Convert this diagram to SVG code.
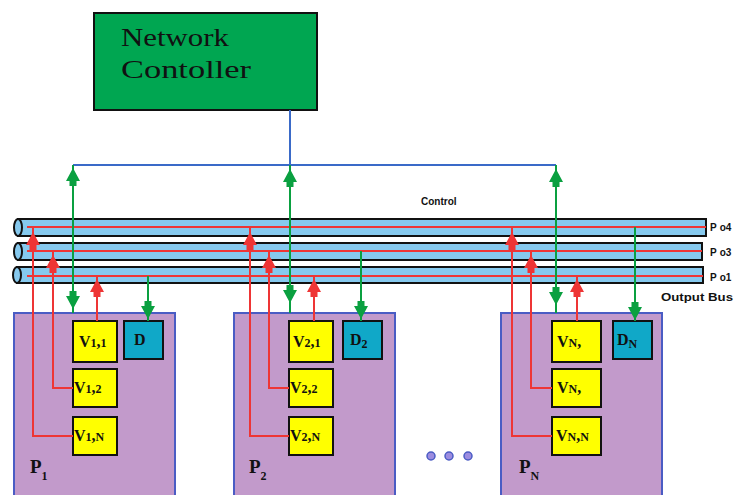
<svg xmlns="http://www.w3.org/2000/svg" width="747" height="495" viewBox="0 0 747 495">
<style>
.proc{fill:#c29acb;stroke:#4a5cc4;stroke-width:2}
.vbox{fill:#ffff00;stroke:#111;stroke-width:2}
.dbox{fill:#10a8c8;stroke:#111;stroke-width:2}
.tube{fill:#86c9ee;stroke:#111;stroke-width:2}
.red{stroke:#ee3535;stroke-width:2;fill:none}
.grn{stroke:#0aa040;stroke-width:2;fill:none}
.blu{stroke:#3a6ac8;stroke-width:2;fill:none}
.lbl{font-family:"Liberation Serif",serif;font-size:16px;font-weight:bold;fill:#111}
.sub{font-size:12px}
.plbl{font-family:"Liberation Serif",serif;font-size:19px;font-weight:bold;fill:#111}
.small{font-family:"Liberation Sans",Arial,sans-serif;font-size:10px;font-weight:bold;fill:#111}
</style>
<defs>
<path id="au" d="M0,0 L7,13 L3.5,13 L3.5,18 L-3.5,18 L-3.5,13 L-7,13 Z"/>
<path id="ad" d="M0,0 L7,-13 L3.5,-13 L3.5,-18 L-3.5,-18 L-3.5,-13 L-7,-13 Z"/>
</defs>

<g id="controller">
<rect x="94" y="13" width="223" height="97" fill="#00a651" stroke="#111" stroke-width="2"/>
<text x="121" y="46" font-family="Liberation Serif,serif" font-size="26" fill="#111" textLength="108" lengthAdjust="spacingAndGlyphs">Network</text>
<text x="121" y="78" font-family="Liberation Serif,serif" font-size="26" fill="#111" textLength="130" lengthAdjust="spacingAndGlyphs">Contoller</text>
</g>

<g id="buses">
<rect class="tube" x="18" y="219" width="688" height="17"/>
<ellipse class="tube" cx="18" cy="227.5" rx="4" ry="8.5"/>
<line class="red" x1="27" y1="227" x2="706" y2="227"/>
<rect class="tube" x="18" y="243" width="684" height="17"/>
<ellipse class="tube" cx="18" cy="251.5" rx="4" ry="8.5"/>
<line class="red" x1="27" y1="251" x2="702" y2="251"/>
<rect class="tube" x="17" y="267" width="686" height="16"/>
<ellipse class="tube" cx="17" cy="275" rx="4" ry="8"/>
<line class="red" x1="27" y1="276" x2="703" y2="276"/>
<text class="small" x="710" y="231">P<tspan dx="3">o4</tspan></text>
<text class="small" x="710" y="256">P<tspan dx="3">o3</tspan></text>
<text class="small" x="710" y="281">P<tspan dx="3">o1</tspan></text>
<text class="small" x="421" y="205">Control</text>
<text class="small" x="661" y="301" textLength="72" lengthAdjust="spacingAndGlyphs">Output Bus</text>
</g>

<g id="p1">
<rect class="proc" x="14" y="313" width="161" height="190"/>
<rect class="vbox" x="73" y="321" width="44" height="41"/>
<text class="lbl" x="79" y="347">V<tspan class="sub">1</tspan>,<tspan class="sub">1</tspan></text>
<rect class="vbox" x="73" y="369" width="44" height="38"/>
<text class="lbl" x="74" y="393">V<tspan class="sub">1</tspan>,<tspan class="sub">2</tspan></text>
<rect class="vbox" x="73" y="417" width="44" height="38"/>
<text class="lbl" x="74" y="441">V<tspan class="sub">1</tspan>,<tspan class="sub">N</tspan></text>
<rect class="dbox" x="124" y="321" width="39" height="38"/>
<text class="lbl" x="134" y="345">D</text>
<text class="plbl" x="30" y="473">P<tspan class="sub" dy="7">1</tspan></text>
</g>

<g id="p2">
<rect class="proc" x="234" y="313" width="161" height="190"/>
<rect class="vbox" x="289" y="321" width="44" height="41"/>
<text class="lbl" x="293" y="347">V<tspan class="sub">2</tspan>,<tspan class="sub">1</tspan></text>
<rect class="vbox" x="289" y="369" width="44" height="38"/>
<text class="lbl" x="290" y="393">V<tspan class="sub">2</tspan>,<tspan class="sub">2</tspan></text>
<rect class="vbox" x="289" y="417" width="44" height="38"/>
<text class="lbl" x="290" y="441">V<tspan class="sub">2</tspan>,<tspan class="sub">N</tspan></text>
<rect class="dbox" x="343" y="321" width="39" height="38"/>
<text class="lbl" x="350" y="345">D<tspan class="sub" dy="3">2</tspan></text>
<text class="plbl" x="249" y="473">P<tspan class="sub" dy="7">2</tspan></text>
</g>

<g id="dots">
<circle cx="431" cy="456" r="4" fill="#9c8ce0" stroke="#4a5cc4" stroke-width="1.5"/>
<circle cx="449" cy="456" r="4" fill="#9c8ce0" stroke="#4a5cc4" stroke-width="1.5"/>
<circle cx="468" cy="456" r="4" fill="#9c8ce0" stroke="#4a5cc4" stroke-width="1.5"/>
</g>

<g id="pN">
<rect class="proc" x="501" y="313" width="161" height="190"/>
<rect class="vbox" x="552" y="321" width="49" height="41"/>
<text class="lbl" x="557" y="347">V<tspan class="sub">N</tspan>,</text>
<rect class="vbox" x="552" y="369" width="49" height="38"/>
<text class="lbl" x="557" y="393">V<tspan class="sub">N</tspan>,</text>
<rect class="vbox" x="552" y="417" width="49" height="38"/>
<text class="lbl" x="556" y="441">V<tspan class="sub">N</tspan>,<tspan class="sub">N</tspan></text>
<rect class="dbox" x="613" y="321" width="39" height="38"/>
<text class="lbl" x="617" y="345">D<tspan class="sub" dy="3">N</tspan></text>
<text class="plbl" x="519" y="473">P<tspan class="sub" dy="7">N</tspan></text>
</g>

<g id="connectors">
<polyline class="blu" points="290,110 290,165"/>
<polyline class="blu" points="73,165 556,165"/>
<line class="grn" x1="73" y1="165" x2="73" y2="313"/>
<line class="grn" x1="290" y1="165" x2="290" y2="313"/>
<line class="grn" x1="556" y1="165" x2="556" y2="313"/>
<g fill="#0aa040">
<use href="#au" x="73" y="168"/><use href="#ad" x="73" y="309"/>
<use href="#au" x="290" y="169"/><use href="#ad" x="290" y="303"/>
<use href="#au" x="556" y="169"/><use href="#ad" x="556" y="305"/>
</g>
<line class="grn" x1="148" y1="276" x2="148" y2="321"/>
<line class="grn" x1="361" y1="251" x2="361" y2="321"/>
<line class="grn" x1="635" y1="227" x2="635" y2="321"/>
<g fill="#0aa040">
<use href="#ad" x="148" y="319"/><use href="#ad" x="361" y="319"/><use href="#ad" x="635" y="320"/>
</g>
<polyline class="red" points="73,436 33,436 33,227"/>
<polyline class="red" points="73,388 53,388 53,251"/>
<polyline class="red" points="97,321 97,276"/>
<polyline class="red" points="289,436 250,436 250,227"/>
<polyline class="red" points="289,388 269,388 269,251"/>
<polyline class="red" points="314,321 314,276"/>
<polyline class="red" points="552,436 512,436 512,227"/>
<polyline class="red" points="552,388 531,388 531,251"/>
<polyline class="red" points="577,321 577,276"/>
<g fill="#ee3535">
<use href="#au" x="33" y="232"/><use href="#au" x="53" y="255"/><use href="#au" x="97" y="279"/>
<use href="#au" x="250" y="232"/><use href="#au" x="269" y="255"/><use href="#au" x="314" y="279"/>
<use href="#au" x="512" y="232"/><use href="#au" x="531" y="255"/><use href="#au" x="577" y="279"/>
</g>
</g>
</svg>
